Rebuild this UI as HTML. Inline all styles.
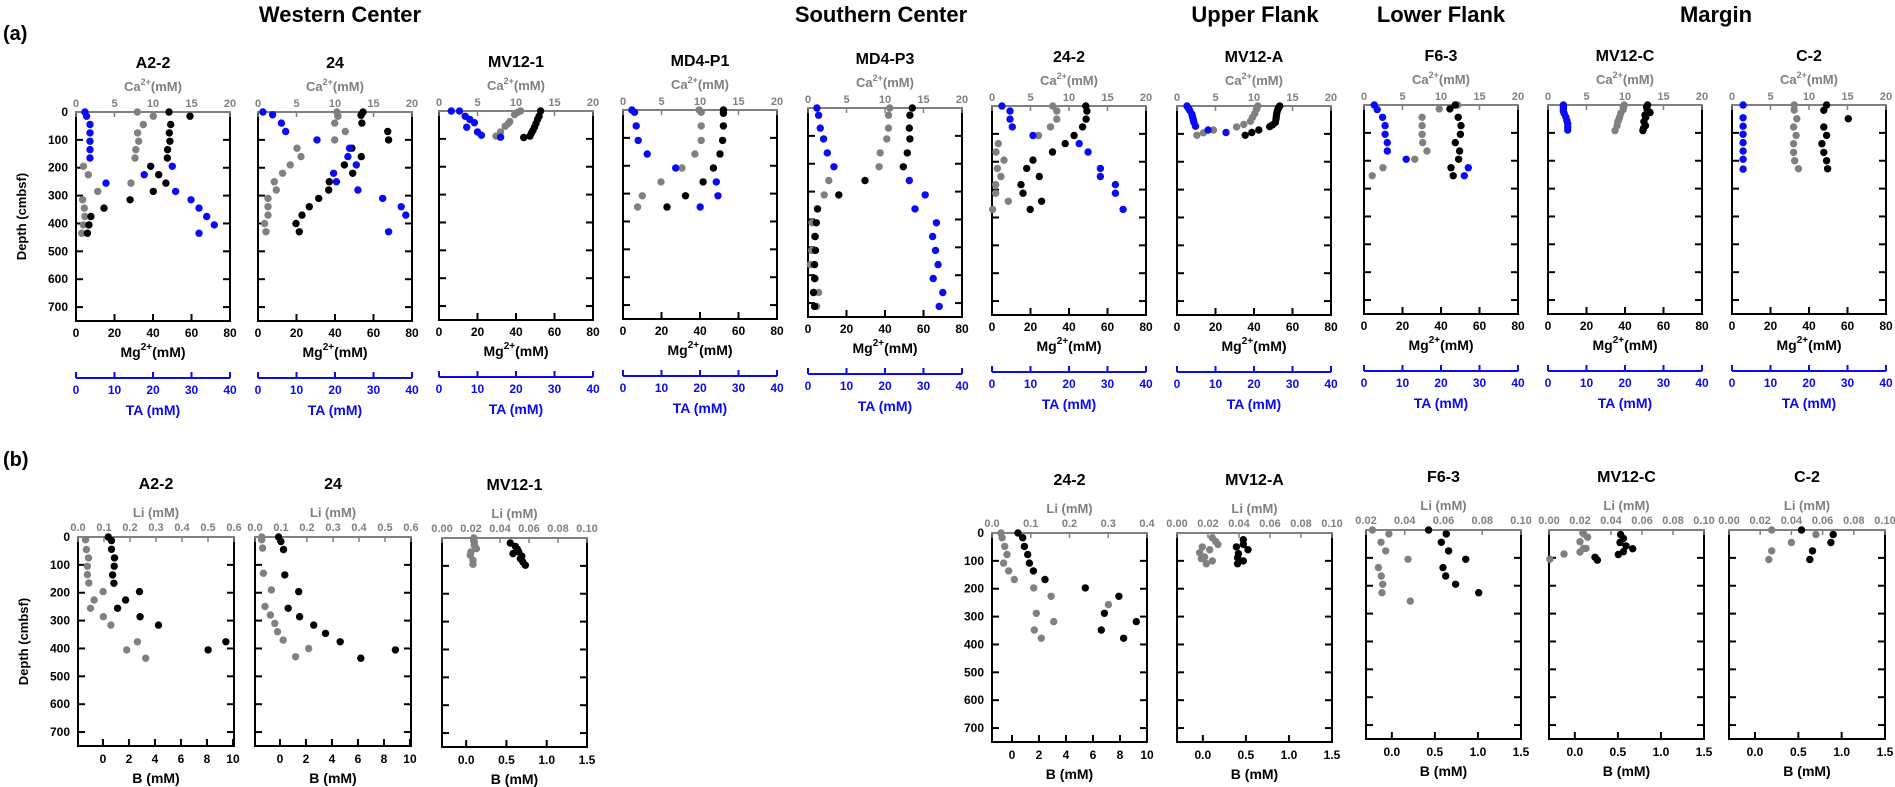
<!DOCTYPE html>
<html><head><meta charset="utf-8"><style>
html,body{margin:0;padding:0;background:#fff;}
svg{display:block;font-family:"Liberation Sans",Arial,sans-serif;}
</style></head><body>
<svg id="s" width="1895" height="787" viewBox="0 0 1895 787" xmlns="http://www.w3.org/2000/svg"></svg>
<script>
var S=document.getElementById('s'),o='';
var G='#808080',BL='#0a0af5',K='#000';
function T(x,y,t,sz,fill,anc,w,extra){o+='<text x="'+x+'" y="'+y+'" font-size="'+sz+'" fill="'+fill+'" text-anchor="'+(anc||'middle')+'" font-weight="'+(w||'bold')+'"'+(extra||'')+'>'+t+'</text>';}
function L(x1,y1,x2,y2,c,w){o+='<line x1="'+x1+'" y1="'+y1+'" x2="'+x2+'" y2="'+y2+'" stroke="'+c+'" stroke-width="'+w+'"/>';}
function C(x,y,c){o+='<circle cx="'+x.toFixed(1)+'" cy="'+y.toFixed(1)+'" r="3.7" fill="'+c+'"/>';}
T(3,40,'(a)',20,K,'start');T(3,466,'(b)',20,K,'start');
T(340,22,'Western Center',22,K);T(881,22,'Southern Center',22,K);T(1255,22,'Upper Flank',22,K);T(1441,22,'Lower Flank',22,K);T(1716,22,'Margin',22,K);
function frame(Lx,Tp,W,H,depthLabels,noTitle){
  L(Lx,Tp,Lx,Tp+H,K,2);L(Lx+W,Tp,Lx+W,Tp+H,K,2);L(Lx-1,Tp+H,Lx+W+1,Tp+H,K,2);
  for(var d=100;d<=700;d+=100){var y=Tp+d*H/750;L(Lx,y,Lx+7,y,K,2);L(Lx+W-7,y,Lx+W,y,K,2);}
  if(depthLabels){for(var d=0;d<=700;d+=100){T(Lx-8,Tp+d*H/750+4,d,12,K,'end');}
    if(!noTitle)o+='<text x="'+(Lx-50)+'" y="'+(Tp+H/2)+'" font-size="13" font-weight="bold" text-anchor="middle" transform="rotate(-90 '+(Lx-50)+' '+(Tp+H/2)+')">Depth (cmbsf)</text>';}
}
var A=[
 {n:'A2-2',L:76,T:112,d:1,
  b:[[.058,0],[.069,15],[.091,45],[.091,75],[.091,105],[.091,135],[.091,165],[.625,195],[.443,225],[.195,255],[.647,285],[.747,315],[.799,345],[.849,375],[.898,405],[.799,435]],
  g:[[.398,0],[.502,15],[.437,45],[.4,75],[.407,105],[.388,135],[.383,165],[.048,195],[.08,225],[.357,255],[.141,285],[.043,315],[.054,345],[.058,375],[.048,405],[.037,435]],
  k:[[.604,0],[.74,15],[.615,45],[.606,75],[.61,105],[.595,135],[.593,165],[.485,195],[.537,225],[.584,255],[.502,285],[.351,315],[.182,345],[.097,375],[.084,405],[.074,435]]},
 {n:'24',L:258,T:112,
  b:[[.032,0],[.095,10],[.152,40],[.18,70],[.383,100],[.595,130],[.584,160],[.638,190],[.491,220],[.509,250],[.649,280],[.81,310],[.848,430],[.93,340],[.96,370]],
  g:[[.513,0],[.519,15],[.498,40],[.567,70],[.498,100],[.253,130],[.279,160],[.21,190],[.16,220],[.106,250],[.119,280],[.065,310],[.065,340],[.065,370],[.043,400],[.052,430]],
  k:[[.682,0],[.669,12],[.675,40],[.842,70],[.848,100],[.61,130],[.671,160],[.561,190],[.615,220],[.463,250],[.459,280],[.394,310],[.333,340],[.286,370],[.247,400],[.268,430]]},
 {n:'MV12-1',L:439,T:111,
  b:[[.08,0],[.133,0],[.17,19],[.23,42],[.18,58],[.275,87],[.4,94],[.2,30],[.25,75]],
  g:[[.53,0],[.49,13],[.46,38],[.43,55],[.37,90],[.51,5],[.45,45],[.4,75]],
  k:[[.66,0],[.65,19],[.63,45],[.61,70],[.59,90],[.55,95],[.64,30],[.62,58],[.6,80]]},
 {n:'MD4-P1',L:623,T:110,
  b:[[.058,0],[.075,8],[.086,57],[.099,109],[.157,158],[.342,208],[.606,258],[.617,308],[.501,348]],
  g:[[.495,0],[.508,8],[.508,57],[.508,109],[.467,158],[.383,208],[.247,258],[.125,308],[.095,348]],
  k:[[.652,0],[.652,12],[.652,57],[.647,109],[.63,158],[.587,208],[.52,258],[.406,308],[.286,348]]},
 {n:'MD4-P3',L:808,T:108,
  b:[[.058,0],[.069,26],[.08,72],[.101,111],[.125,161],[.168,211],[.658,260],[.761,312],[.695,362],[.834,412],[.809,461],[.828,511],[.845,562],[.813,612],[.875,662],[.852,712]],
  g:[[.531,0],[.523,26],[.523,72],[.512,111],[.469,161],[.462,211],[.135,260],[.105,312],[.062,362],[.026,412],[.043,461],[.024,511],[.015,562],[.047,612],[.069,662],[.056,712]],
  k:[[.677,0],[.662,26],[.658,72],[.662,111],[.645,161],[.619,211],[.37,260],[.2,312],[.062,362],[.054,412],[.047,461],[.049,511],[.043,562],[.043,612],[.036,662],[.043,712]]},
 {n:'24-2',L:992,T:106,
  b:[[.065,0],[.117,18],[.117,47],[.132,75],[.266,106],[.566,135],[.624,165],[.704,224],[.704,253],[.801,282],[.801,313],[.851,371]],
  g:[[.395,0],[.421,18],[.421,47],[.38,75],[.302,106],[.041,135],[.026,165],[.078,194],[.035,224],[.058,253],[.024,282],[.024,313],[.106,342],[.004,371]],
  k:[[.609,0],[.616,18],[.611,47],[.588,75],[.533,106],[.475,135],[.393,165],[.266,194],[.225,224],[.307,253],[.188,282],[.201,313],[.322,342],[.248,371]]},
 {n:'MV12-A',L:1177,T:106,
  b:[[.065,0],[.082,15],[.097,29],[.103,44],[.11,58],[.12,73],[.202,86],[.318,95],[.075,8],[.1,36],[.106,50]],
  g:[[.525,0],[.516,12],[.505,27],[.49,41],[.477,55],[.434,66],[.387,75],[.237,86],[.172,96],[.129,105],[.52,6]],
  k:[[.667,0],[.656,12],[.647,29],[.643,47],[.639,59],[.602,74],[.531,86],[.486,95],[.443,105],[.66,6],[.65,20],[.645,38],[.62,68]]},
 {n:'F6-3',L:1364,T:105,
  b:[[.067,0],[.086,16],[.121,44],[.137,74],[.137,105],[.151,135],[.151,165],[.274,195],[.677,225],[.651,254]],
  g:[[.609,0],[.488,14],[.377,44],[.377,74],[.377,105],[.381,135],[.409,165],[.33,195],[.123,225],[.053,254]],
  k:[[.593,0],[.558,14],[.612,44],[.63,74],[.626,105],[.593,135],[.621,165],[.614,195],[.565,225],[.579,254]]},
 {n:'MV12-C',L:1548,T:105,
  b:[[.1,0],[.1,16],[.105,30],[.116,44],[.123,56],[.128,68],[.128,80],[.128,90],[.1,8],[.1,23]],
  g:[[.495,0],[.488,16],[.472,30],[.465,44],[.453,60],[.449,74],[.435,92],[.49,8],[.46,52]],
  k:[[.647,0],[.644,16],[.663,27],[.635,44],[.623,60],[.633,74],[.616,92],[.64,8],[.63,36],[.62,84]]},
 {n:'C-2',L:1732,T:105,
  b:[[.072,0],[.072,46],[.072,76],[.072,105],[.072,135],[.072,165],[.072,195],[.072,230]],
  g:[[.404,0],[.404,18],[.421,49],[.4,79],[.416,109],[.4,139],[.4,170],[.407,200],[.432,229]],
  k:[[.614,0],[.596,19],[.755,49],[.596,79],[.614,109],[.584,139],[.596,170],[.614,200],[.621,229]]}
];
A.forEach(function(p){
  var W=154,H=209,Lx=p.L,Tp=p.T,B=Tp+H;
  T(Lx+W/2,Tp-44,p.n,16,K);
  T(Lx+W/2,Tp-21,'Ca<tspan font-size="9" dy="-6">2+</tspan><tspan dy="6">(mM)</tspan>',13,G,'middle','bold');
  frame(Lx,Tp,W,H,p.d);
  L(Lx-1,Tp,Lx+W+1,Tp,G,2);
  for(var i=0;i<=4;i++){var x=Lx+i*W/4;L(x,Tp,x,Tp+5,G,1.5);T(x,Tp-5,i*5,11,G);}
  for(var i=0;i<=4;i++){var x=Lx+i*W/4;L(x,B,x,B-7,K,2);T(x,B+16,i*20,12,K);}
  T(Lx+W/2,B+36,'Mg<tspan font-size="10" dy="-7">2+</tspan><tspan dy="7">(mM)</tspan>',14,K);
  var ty=Tp+266;
  L(Lx,ty,Lx+W,ty,BL,2);
  for(var i=0;i<=4;i++){var x=Lx+i*W/4;L(x,ty,x,ty-6,BL,2);T(x,ty+16,i*10,12,BL);}
  T(Lx+W/2,ty+37,'TA (mM)',14,BL);
  p.g.forEach(function(q){C(Lx+q[0]*W,Tp+q[1]*H/750,G);});
  p.k.forEach(function(q){C(Lx+q[0]*W,Tp+q[1]*H/750,K);});
  p.b.forEach(function(q){C(Lx+q[0]*W,Tp+q[1]*H/750,BL);});
});
var big={min:-1.92,max:10.08,t:[0,2,4,6,8,10],f:function(v){return v;}};
var big2={min:-1.48,max:10,t:[0,2,4,6,8,10],f:function(v){return v;}};
var sm={min:-0.3,max:1.5,t:[0,.5,1,1.5],f:function(v){return v.toFixed(1);}};
var li6={min:0,max:.6,t:[0,.1,.2,.3,.4,.5,.6],f:function(v){return v.toFixed(1);}};
var li4={min:0,max:.4,t:[0,.1,.2,.3,.4],f:function(v){return v.toFixed(1);}};
var li1={min:0,max:.1,t:[0,.02,.04,.06,.08,.1],f:function(v){return v.toFixed(2);}};
var li1b={min:.02,max:.1,t:[.02,.04,.06,.08,.1],f:function(v){return v.toFixed(2);}};
var Bp=[
 {n:'A2-2',L:78,T:537,W:156,d:1,ba:big,la:li6,
  g:[[.049,10],[.054,45],[.067,75],[.06,105],[.06,135],[.069,165],[.161,196],[.103,226],[.08,256],[.163,286],[.211,316],[.381,376],[.312,405],[.434,435]],
  k:[[.194,0],[.215,13],[.215,44],[.234,75],[.232,105],[.222,136],[.23,166],[.394,196],[.305,226],[.254,256],[.398,286],[.516,316],[.948,376],[.834,405]]},
 {n:'24',L:255,T:537,W:156,ba:big,la:li6,
  g:[[.043,0],[.043,10],[.049,40],[.054,130],[.105,190],[.064,249],[.099,280],[.127,310],[.144,340],[.181,370],[.344,400],[.26,430]],
  k:[[.151,0],[.166,16],[.183,45],[.191,136],[.28,196],[.213,256],[.286,286],[.376,316],[.452,346],[.546,376],[.9,405],[.678,435]]},
 {n:'MV12-1',L:442,T:538,W:145,ba:sm,la:li1,
  g:[[.218,8],[.223,26],[.237,38],[.195,62],[.214,80],[.214,94],[.223,14],[.22,0],[.2,50]],
  k:[[.471,18],[.506,30],[.49,56],[.529,50],[.54,74],[.558,86],[.575,98],[.52,40],[.55,65]]},
 {n:'24-2',L:992,T:533,W:155,d:1,nt:1,ba:big2,la:li4,
  g:[[.058,0],[.065,17],[.082,48],[.097,77],[.075,108],[.108,136],[.144,167],[.269,197],[.381,227],[.751,257],[.286,288],[.398,318],[.273,348],[.318,378]],
  k:[[.168,0],[.198,17],[.209,48],[.23,77],[.241,108],[.267,136],[.342,167],[.602,197],[.819,227],[.725,288],[.931,318],[.705,348],[.849,378]]},
 {n:'MV12-A',L:1177,T:533,W:155,ba:sm,la:li1,
  g:[[.228,17],[.249,30],[.264,41],[.163,50],[.146,71],[.211,60],[.157,92],[.228,100],[.189,110],[.178,86]],
  k:[[.428,24],[.428,41],[.383,50],[.458,60],[.396,74],[.391,89],[.428,100],[.391,110]]},
 {n:'F6-3',L:1366,T:530,W:155,ba:sm,la:li1b,
  g:[[.041,0],[.148,14],[.097,44],[.127,75],[.271,105],[.08,135],[.099,165],[.108,195],[.103,225],[.286,255]],
  k:[[.404,0],[.518,14],[.486,44],[.533,75],[.643,105],[.497,135],[.514,165],[.578,195],[.727,225]]},
 {n:'MV12-C',L:1549,T:530,W:155,ba:sm,la:li1,
  g:[[.006,105],[.097,86],[.2,79],[.224,66],[.2,42],[.224,14],[.249,26],[.239,66]],
  k:[[.462,16],[.48,30],[.458,45],[.497,57],[.54,67],[.48,78],[.447,88],[.297,98],[.312,108]]},
 {n:'C-2',L:1729,T:530,W:156,ba:sm,la:li1,
  g:[[.274,0],[.557,16],[.4,45],[.274,75],[.255,106]],
  k:[[.465,0],[.668,16],[.653,45],[.535,75],[.518,106]]}
];
Bp.forEach(function(p){
  var W=p.W,H=209,Lx=p.L,Tp=p.T,B=Tp+H;
  T(Lx+W/2,Tp-48,p.n,16,K);
  T(Lx+W/2,Tp-20,'Li (mM)',13,G);
  frame(Lx,Tp,W,H,p.d,p.nt);
  L(Lx-1,Tp,Lx+W+1,Tp,G,2);
  var la=p.la;la.t.forEach(function(v){var x=Lx+(v-la.min)/(la.max-la.min)*W;L(x,Tp,x,Tp+5,G,1.5);T(x,Tp-6,la.f(v),11,G);});
  var ba=p.ba;ba.t.forEach(function(v){var x=Lx+(v-ba.min)/(ba.max-ba.min)*W;L(x,B,x,B-7,K,2);T(x,B+17,ba.f(v),12,K);});
  T(Lx+W/2,B+37,'B (mM)',14,K);
  p.g.forEach(function(q){C(Lx+q[0]*W,Tp+q[1]*H/750,G);});
  p.k.forEach(function(q){C(Lx+q[0]*W,Tp+q[1]*H/750,K);});
});
S.innerHTML=o;
</script>
</body></html>
